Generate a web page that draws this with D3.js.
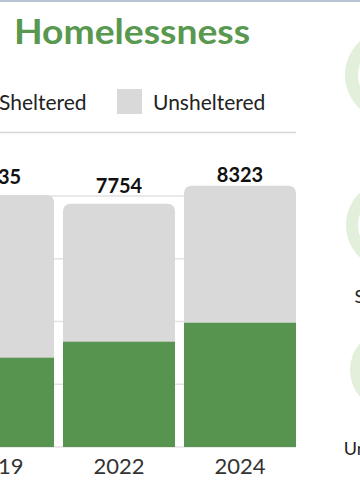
<!DOCTYPE html>
<html><head><meta charset="utf-8">
<script src="https://cdn.jsdelivr.net/npm/d3@7"></script>
<style>html,body{margin:0;padding:0;background:#fff;overflow:hidden}</style>
</head><body>
<svg id="c" width="360" height="504"></svg>
<script>
const years = ["2019", "2022", "2024"];
const sheltered = [2846, 3356, 3960];
const totals = [8035, 7754, 8323];
const unsheltered = totals.map((t, i) => t - sheltered[i]);
const gridTicks = [0, 2000, 4000, 6000, 8000];
const legendLabels = ["Sheltered", "Unsheltered"];
const sideLabels = ["", "Sheltered", "Unsheltered"];

const GREEN = "#57944f", GRAY = "#d9d9d9";
const svg = d3.select("#c");
const font = "Lato, 'Open Sans', sans-serif";

// top border
svg.append("rect").attr("x", 0).attr("y", 0).attr("width", 360).attr("height", 2).attr("fill", "#b8c3d4");

// title
svg.append("text").attr("x", 14).attr("y", 44).text("Homelessness")
  .attr("font-family", font).attr("font-weight", 700).attr("font-size", 35)
  .attr("textLength", 236).attr("lengthAdjust", "spacingAndGlyphs").attr("fill", "#58984f");

// legend
const legendX = d3.scaleOrdinal().domain(legendLabels).range([-37, 117]);
const legendColor = d3.scaleOrdinal().domain(legendLabels).range([GREEN, GRAY]);
legendLabels.forEach(l => {
  svg.append("rect").attr("x", legendX(l)).attr("y", 89).attr("width", 25).attr("height", 25).attr("fill", legendColor(l));
  svg.append("text").attr("x", legendX(l) + 36).attr("y", 110).text(l)
    .attr("font-family", font).attr("font-size", 21).attr("fill", "#222");
});
svg.append("line").attr("x1", 0).attr("x2", 296).attr("y1", 132.5).attr("y2", 132.5)
  .attr("stroke", "#d6d6d6").attr("stroke-width", 1.5);

// scales
const x = d3.scaleBand().domain(years).range([-58, 296]).paddingInner(9 / 121).paddingOuter(0);
const y = d3.scaleLinear().domain([0, 8000]).range([447, 196]);

// gridlines
svg.append("g").selectAll("line").data(gridTicks).join("line")
  .attr("x1", 0).attr("x2", 296).attr("y1", d => y(d)).attr("y2", d => y(d))
  .attr("stroke", "#e2e2e2").attr("stroke-width", 1.5);

// bars
const r = 8;
const bw = x.bandwidth();
const data = years.map((yr, i) => ({yr, s: sheltered[i], u: unsheltered[i], t: totals[i]}));
const g = svg.append("g");
g.selectAll("path.tot").data(data).join("path").attr("class", "tot")
  .attr("d", d => {
    const x0 = x(d.yr), x1 = x0 + bw, yt = y(d.t), yb = y(0);
    return `M${x0},${yb}V${yt + r}Q${x0},${yt} ${x0 + r},${yt}H${x1 - r}Q${x1},${yt} ${x1},${yt + r}V${yb}Z`;
  })
  .attr("fill", GRAY);
g.selectAll("rect.sh").data(data).join("rect").attr("class", "sh")
  .attr("x", d => x(d.yr)).attr("width", bw)
  .attr("y", d => y(d.s)).attr("height", d => y(0) - y(d.s))
  .attr("fill", GREEN);

// value labels
const labelTop = 182;
g.selectAll("text.val").data(data).join("text").attr("class", "val")
  .attr("x", d => x(d.yr) + bw / 2)
  .attr("y", d => Math.max(y(d.t) - 10.5, labelTop))
  .attr("text-anchor", "middle").text(d => d.t)
  .attr("font-family", font).attr("font-weight", 700).attr("font-size", 20).attr("fill", "#111");

// x axis labels
const xAxis = d3.axisBottom(x).tickSize(0).tickPadding(0);
const ax = svg.append("g").attr("transform", `translate(0,${y(0)})`).call(xAxis);
ax.select(".domain").remove();
ax.selectAll("text").attr("dy", 0).attr("y", 27)
  .attr("font-family", font).attr("font-size", 22).attr("fill", "#333");

// side donut tracks (cropped)
const rings = [{cy: 75, ro: 46, ri: 33}, {cy: 225, ro: 45, ri: 33}, {cy: 370, ro: 41, ri: 26}];
const arc = d3.arc().startAngle(0).endAngle(2 * Math.PI);
rings.forEach((rg, i) => {
  svg.append("path").attr("transform", `translate(391,${rg.cy})`)
    .attr("d", arc({innerRadius: rg.ri, outerRadius: rg.ro})).attr("fill", "#e2efda");
  if (sideLabels[i]) {
    svg.append("text").attr("x", 392).attr("y", rg.cy + 78 + (i === 2 ? 7 : 0)).attr("text-anchor", "middle")
      .text(sideLabels[i]).attr("font-family", font).attr("font-size", 18).attr("fill", "#222");
  }
});
</script>
</body></html>
